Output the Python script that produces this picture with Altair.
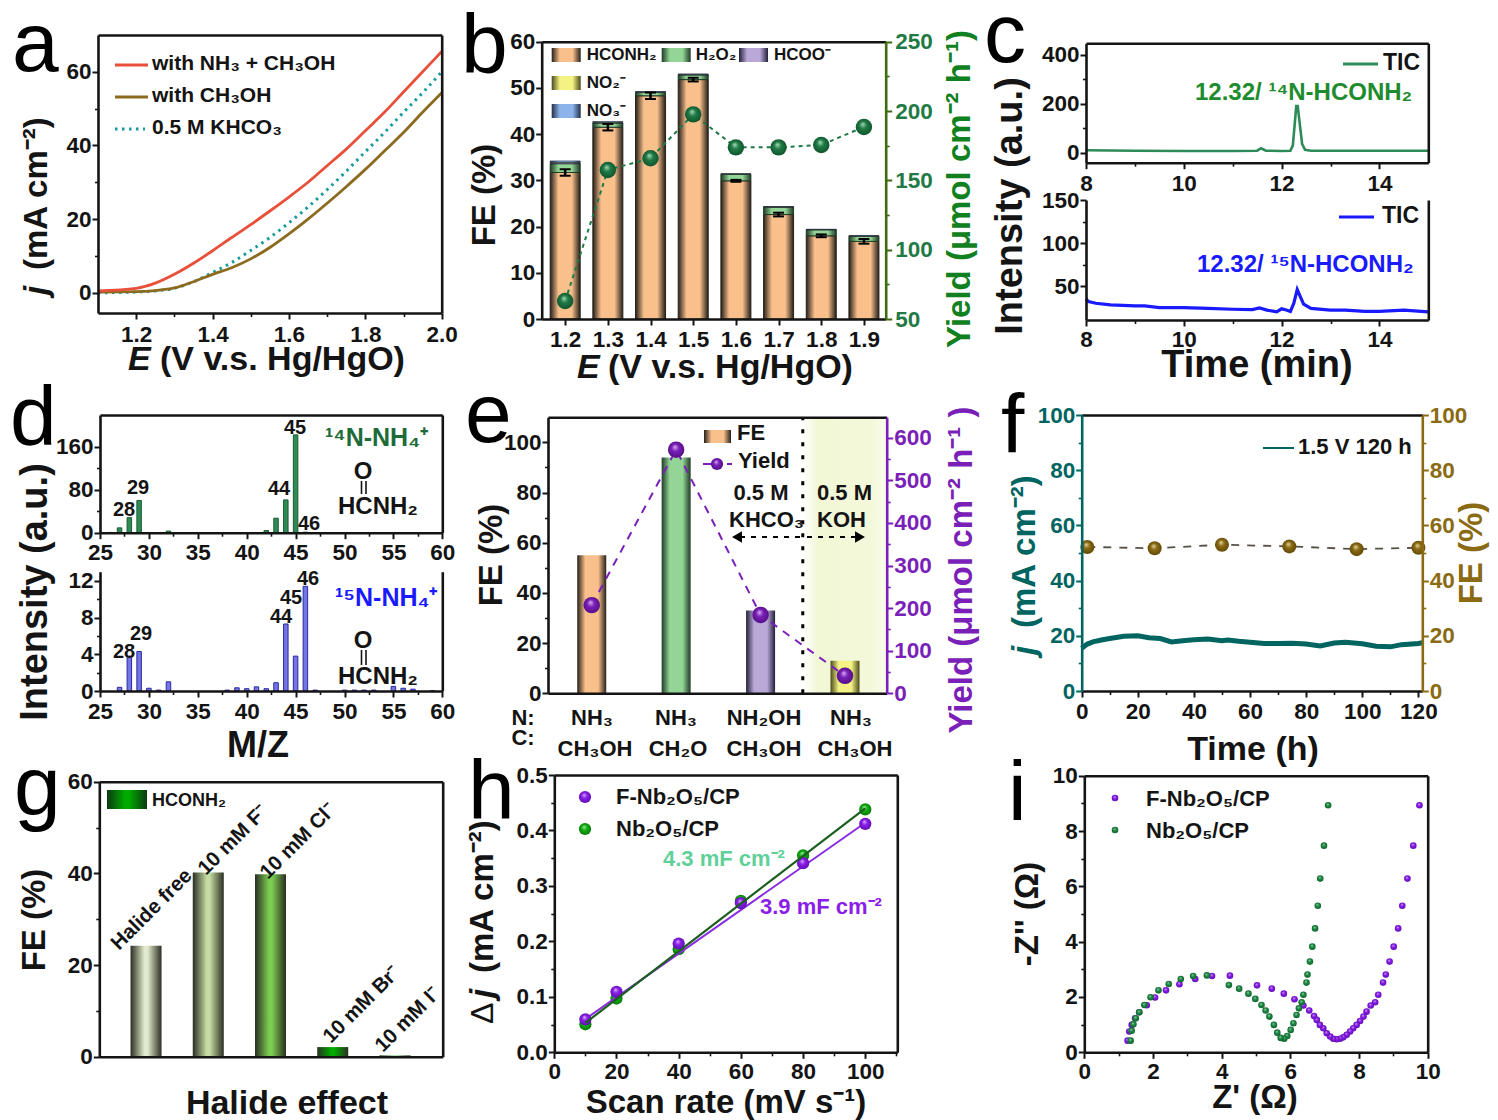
import altair as alt
import pandas as pd

W, H = 1482, 1112
FONT = "Liberation Sans"
INK = "#141414"

# ---------- data ----------
a_x = [1.1, 1.2, 1.25, 1.3, 1.35, 1.4, 1.45, 1.5, 1.55, 1.6, 1.65, 1.7, 1.75, 1.8, 1.85, 1.9, 1.95, 2.0]
a_red = [0.5, 1.2, 2.6, 5, 8, 11.4, 15, 18.5, 22.2, 26, 30, 34.5, 39, 44, 49, 54.5, 60, 65.5]
a_brown = [0.2, 0.3, 0.6, 1.3, 3, 5, 6.8, 9.2, 12.3, 16, 20, 24.3, 28.8, 33.5, 38.5, 43.5, 49, 54.3]
a_teal = [0, 0.2, 0.5, 1.2, 3, 5.5, 8.2, 11.5, 15, 19, 23.3, 28, 33, 38.3, 43.5, 49, 54.3, 60]

b_x = [1.2, 1.3, 1.4, 1.5, 1.6, 1.7, 1.8, 1.9]
b_hconh2 = [31.7, 41.5, 48.3, 51.8, 29.9, 22.6, 18.0, 16.8]
b_h2o2 = [1.9, 0.9, 0.7, 1.0, 1.4, 1.6, 1.3, 1.1]
b_hcoo = [0.2, 0.1, 0.1, 0.1, 0.05, 0.05, 0.05, 0.05]
b_no2 = [0.1, 0.1, 0.05, 0.05, 0.03, 0.03, 0.03, 0.03]
b_no3 = [0.3, 0.1, 0.05, 0.05, 0.02, 0.02, 0.02, 0.02]
b_err = [0.7, 0.7, 0.7, 0.4, 0.2, 0.4, 0.3, 0.5]
b_yield = [63, 157.5, 165.9, 197.6, 173.8, 173.8, 175.5, 188.5]

c1_x = [8, 9, 10, 11, 11.5, 11.55, 11.58, 11.62, 11.68, 12, 12.18, 12.23, 12.27, 12.3, 12.33, 12.37, 12.42, 12.48, 12.6, 13, 14, 15]
c1_y = [10, 8, 7, 7, 8, 14, 18, 14, 8, 7, 8, 30, 120, 190, 190, 120, 35, 12, 8, 8, 8, 8]
c2_x = [8, 8.05, 8.2, 8.5, 9, 9.2, 9.5, 10, 10.5, 11, 11.4, 11.55, 11.7, 11.9, 12, 12.08, 12.18, 12.25, 12.32, 12.38, 12.45, 12.6, 13, 13.3, 13.7, 14, 14.5, 15]
c2_y = [35, 32, 30, 28, 27, 27, 25, 25, 24, 23, 22.5, 24.5, 22, 20, 23.5, 22.5, 20.5, 30, 46, 38, 29, 24, 22, 22, 20.5, 20.5, 22, 20]

d1_x = [26, 27, 28, 29, 32, 42, 43, 44, 45, 46]
d1_y = [0.5, 9, 28, 60, 3, 4, 27, 61, 182, 1]
d2_x = [27, 28, 29, 30, 31, 32, 38, 39, 40, 41, 42, 43, 44, 45, 46, 47, 50, 51, 52, 53, 55, 56, 57, 59]
d2_y = [0.4, 3.8, 4.3, 0.3, 0.1, 1.0, 0.1, 0.35, 0.25, 0.45, 0.25, 0.9, 7.3, 3.8, 11.4, 0.1, 0.1, 0.1, 0.1, 0.1, 0.5, 0.3, 0.2, 0.05]

e_x = [1, 2, 3, 4]
e_fe = [55, 94, 33, 13]
e_yield = [207, 572, 184, 41]

f_x = [0, 2, 4, 7, 10, 15, 20, 24, 28, 32, 36, 40, 45, 50, 52, 56, 60, 65, 70, 75, 80, 85, 90, 94, 100, 105, 110, 114, 120, 121.4]
f_j = [15.5, 17, 17.8, 18.5, 19, 19.8, 20, 19.3, 19, 17.8, 18.2, 18.6, 18.8, 18.2, 18.5, 18, 17.7, 17.2, 17.2, 17.3, 17, 16.3, 17.4, 17.7, 17.1, 16.2, 16, 16.8, 17.2, 17.5]
f_tx = [2, 26, 50, 74, 98, 120]
f_fe = [52.2, 51.7, 53, 52.4, 51.4, 51.9]

g_x = [1, 2, 3, 4, 5]
g_fe = [24.2, 40.2, 39.8, 2.1, 0.3]
g_col = ["#e2ebcd", "#c6dca2", "#7ccc50", "#00ab00", "#8fd08f"]

h_x = [10, 20, 40, 60, 80, 100]
h_f = [0.0595, 0.109, 0.196, 0.269, 0.341, 0.412]
h_n = [0.0505, 0.097, 0.186, 0.273, 0.355, 0.438]
h_fit_x = [10, 100]
h_fit_f = [0.06, 0.414]
h_fit_n = [0.053, 0.44]

i_fx = [9.76, 9.58, 9.41, 9.26, 9.14, 9.01, 8.89, 8.78, 8.70, 8.56, 8.47, 8.34, 8.22, 8.13, 8.03, 7.93, 7.83, 7.74, 7.64, 7.54, 7.45, 7.35, 7.25, 7.16, 7.06, 6.96, 6.86, 6.77, 6.69, 6.55, 6.38, 6.12, 5.81, 5.46, 5.03, 4.24, 3.72, 3.23, 2.77, 2.38, 2.06, 1.82, 1.60, 1.48, 1.38, 1.31, 1.26]
i_fy = [8.93, 7.47, 6.28, 5.30, 4.48, 3.82, 3.28, 2.81, 2.52, 2.08, 1.81, 1.69, 1.47, 1.29, 1.13, 0.99, 0.87, 0.75, 0.63, 0.54, 0.49, 0.47, 0.49, 0.57, 0.69, 0.87, 0.99, 1.17, 1.31, 1.51, 1.69, 1.92, 2.12, 2.30, 2.42, 2.77, 2.76, 2.65, 2.46, 2.24, 1.98, 1.70, 1.45, 1.23, 0.99, 0.75, 0.42]
i_nx = [7.10, 6.98, 6.87, 6.80, 6.72, 6.64, 6.57, 6.50, 6.47, 6.38, 6.33, 6.25, 6.18, 6.09, 6.01, 5.91, 5.82, 5.72, 5.62, 5.52, 5.39, 5.28, 5.16, 4.98, 4.78, 4.51, 4.21, 3.57, 3.17, 2.81, 2.46, 2.16, 1.93, 1.75, 1.60, 1.50, 1.43, 1.38, 1.35]
i_ny = [8.93, 7.47, 6.28, 5.30, 4.48, 3.82, 3.28, 2.81, 2.52, 2.08, 1.81, 1.59, 1.35, 1.05, 0.81, 0.59, 0.49, 0.52, 0.71, 0.99, 1.29, 1.51, 1.71, 1.93, 2.12, 2.30, 2.43, 2.78, 2.76, 2.65, 2.47, 2.24, 1.99, 1.71, 1.45, 1.23, 1.01, 0.78, 0.42]

GREEN, PURPLE, TEAL, BROWN = "#1f7a45", "#7a1fb8", "#006461", "#8a6a12"
ONE = pd.DataFrame({"k": [0]})
LS = 22.5
layers = []


# ---------- helpers ----------
class Panel:
    def __init__(self, xd, yd, l, r, t, b):
        self.xd, self.yd, self.l, self.r, self.t, self.b = xd, yd, l, r, t, b
        self.sx = alt.Scale(domain=xd, range=[l - 8, r - 8], nice=False, zero=False, padding=0)
        self.sy = alt.Scale(domain=yd, range=[b - 8, t - 8], nice=False, zero=False, padding=0)


def axis(orient, dom, rng, at, major, minor=(), color=INK, line=None, fmt="d", size=LS, pad=2,
         labels=True, ticks=True):
    off = {"left": -(at - 8), "top": -(at - 8), "right": (at - 8) - W, "bottom": (at - 8) - H}[orient]
    horiz = orient in ("top", "bottom")
    scale = alt.Scale(domain=dom, range=rng, nice=False, zero=False)
    df = pd.DataFrame({"v": dom})
    kw = dict(orient=orient, offset=off, grid=False, values=list(major), format=fmt, zindex=1,
              domainColor=line or color, domainWidth=2.6, tickColor=line or color, tickWidth=2, tickSize=6,
              ticks=ticks, labels=labels, labelFont=FONT, labelFontWeight="bold", labelFontSize=size,
              labelColor=color, labelPadding=pad, labelOverlap=False, labelFlush=False, title=None)
    out = []
    if len(minor):
        mk = alt.Axis(orient=orient, offset=off, grid=False, values=list(minor), domain=False, labels=False,
                      tickColor=line or color, tickWidth=1.6, tickSize=3.5, title=None, zindex=1)
        ch = alt.X("v:Q", scale=scale, axis=mk) if horiz else alt.Y("v:Q", scale=scale, axis=mk)
        out.append(alt.Chart(df).mark_point(opacity=0).encode(**({"x": ch, "y": alt.value(0)} if horiz else {"y": ch, "x": alt.value(0)})))
    ax = alt.Axis(**kw)
    ch = alt.X("v:Q", scale=scale, axis=ax) if horiz else alt.Y("v:Q", scale=scale, axis=ax)
    out.append(alt.Chart(df).mark_point(opacity=0).encode(**({"x": ch, "y": alt.value(0)} if horiz else {"y": ch, "x": alt.value(0)})))
    layers.extend(out)


def hax(p, at, major, minor=(), **k):
    axis(k.pop("orient", "bottom"), p.xd, [p.l - 8, p.r - 8], at, major, minor, **k)


def vax(p, at, major, minor=(), **k):
    axis(k.pop("orient", "left"), p.yd, [p.b - 8, p.t - 8], at, major, minor, **k)


def edge(p, side, color=INK):
    if side in ("top", "bottom"):
        hax(p, p.t if side == "top" else p.b, [], orient=side, labels=False, ticks=False, color=color)
    else:
        vax(p, p.r if side == "right" else p.l, [], orient=side, labels=False, ticks=False, color=color)


def xy(p):
    return dict(x=alt.X("x:Q", scale=p.sx, axis=None), y=alt.Y("y:Q", scale=p.sy, axis=None))


def line(p, xs, ys, color, width=2.5, dash=None, interp="linear"):
    kw = dict(color=color, strokeWidth=width, interpolate=interp, clip=True)
    if dash:
        kw["strokeDash"] = dash
    layers.append(alt.Chart(pd.DataFrame({"x": xs, "y": ys})).mark_line(**kw).encode(**xy(p)))


def bars(p, xs, lo, hi, fill, width, stroke=None, sw=1):
    df = pd.DataFrame({"x": xs, "y": hi, "y0": lo})
    kw = dict(fill=fill, size=width)
    if stroke:
        kw.update(stroke=stroke, strokeWidth=sw)
    layers.append(alt.Chart(df).mark_bar(**kw).encode(y2=alt.Y2("y0:Q"), **xy(p)))


def gloss(c, lo, hi):
    return {"gradient": "radial", "x1": 0.42, "y1": 0.32, "r1": 0, "x2": 0.5, "y2": 0.5, "r2": 0.56,
            "stops": [{"offset": 0, "color": lo}, {"offset": 0.4, "color": c}, {"offset": 1, "color": hi}]}


def edge_grad(c, d="#26201a", w=0.28):
    return {"gradient": "linear", "x1": 0, "x2": 1, "y1": 0, "y2": 0,
            "stops": [{"offset": 0, "color": d}, {"offset": w, "color": c}, {"offset": 1 - w, "color": c}, {"offset": 1, "color": d}]}


def balls(p, xs, ys, fill, size):
    layers.append(alt.Chart(pd.DataFrame({"x": xs, "y": ys})).mark_circle(fill=fill, size=size, opacity=1).encode(**xy(p)))


def ball_at(x, y, fill, size):
    layers.append(alt.Chart(ONE).mark_circle(fill=fill, size=size, opacity=1).encode(x=alt.value(x - 8), y=alt.value(y - 8)))


def key_line(x1, x2, y, color, width=2.5, dash=None):
    kw = dict(color=color, strokeWidth=width)
    if dash:
        kw["strokeDash"] = dash
    layers.append(alt.Chart(ONE).mark_rule(**kw).encode(x=alt.value(x1 - 8), x2=alt.value(x2 - 8), y=alt.value(y - 8)))


def key_vline(x, y1, y2, color=INK, width=1.6):
    layers.append(alt.Chart(ONE).mark_rule(color=color, strokeWidth=width).encode(x=alt.value(x - 8), y=alt.value(y1 - 8), y2=alt.value(y2 - 8)))


def key_rect(x1, x2, y1, y2, fill):
    layers.append(alt.Chart(ONE).mark_rect(fill=fill).encode(x=alt.value(x1 - 8), x2=alt.value(x2 - 8), y=alt.value(y1 - 8), y2=alt.value(y2 - 8)))


def T(s, x, y, size=21, color=INK, angle=0, align="left", weight="bold", style=None, base="alphabetic"):
    kw = dict(font=FONT, fontSize=size, color=color, align=align, fontWeight=weight, baseline=base)
    if angle:
        kw["angle"] = angle
    if style:
        kw["fontStyle"] = style
    layers.append(alt.Chart(pd.DataFrame({"t": [s]})).mark_text(**kw).encode(text="t:N", x=alt.value(x - 8), y=alt.value(y - 8)))


ORANGE = edge_grad("#f9c08c")
LGREEN = edge_grad("#93d596", "#1e3a26")
LPURP = edge_grad("#baa9d8", "#22203a")
LYEL = edge_grad("#f3f283", "#4a4a1a")
LBLUE = edge_grad("#8db4ea", "#22304a")

# ---------- panel a ----------
pa = Panel([1.1, 2.0], [-5.5, 70], 98, 441.7, 35, 313)
line(pa, a_x, a_teal, "#169a9a", 3, [2.5, 4.5], "monotone")
line(pa, a_x, a_brown, "#8c6a1e", 2.8, None, "monotone")
line(pa, a_x, a_red, "#e8503a", 2.8, None, "monotone")
hax(pa, 313, [1.2, 1.4, 1.6, 1.8, 2.0], [1.3, 1.5, 1.7, 1.9], fmt=".1f", pad=4)
vax(pa, 98, [0, 20, 40, 60], [10, 30, 50], pad=1)
edge(pa, "top"); edge(pa, "right")
key_line(115, 148, 65, "#e8503a", 3)
key_line(115, 148, 97, "#8c6a1e", 3)
key_line(115, 145, 129, "#169a9a", 3, [2.5, 4.5])
T("with NH₃ + CH₃OH", 152, 70)
T("with CH₃OH", 152, 102)
T("0.5 M KHCO₃", 152, 134)
T("j", 47, 295, 33, angle=270, style="italic")
T("(mA cm⁻²)", 47, 270, 33, angle=270)
T("E", 128, 370, 34, style="italic")
T("(V v.s. Hg/HgO)", 160, 370, 34)

# ---------- panel b ----------
pb = Panel([1.145, 1.951], [0, 60], 541.7, 885.7, 41.7, 319)
pby = Panel([1.145, 1.951], [50, 250], 541.7, 885.7, 41.7, 319)
s1 = b_hconh2
s2 = [a + b for a, b in zip(s1, b_h2o2)]
s3 = [a + b for a, b in zip(s2, b_hcoo)]
s4 = [a + b for a, b in zip(s3, b_no2)]
s5 = [a + b for a, b in zip(s4, b_no3)]
bars(pb, b_x, [0] * 8, s1, ORANGE, 30, "#2a2018", 1)
bars(pb, b_x, s1, s2, LGREEN, 30, "#1e3a26", 1)
bars(pb, b_x, s2, s3, LPURP, 30, "#22203a", 0.6)
bars(pb, b_x, s3, s4, LYEL, 30, "#4a4a1a", 0.6)
bars(pb, b_x, s4, s5, LBLUE, 30, "#22304a", 0.6)
lo = [a - e for a, e in zip(s1, b_err)]
hi = [a + e for a, e in zip(s1, b_err)]
errdf = pd.DataFrame({"x": b_x, "y": lo, "y0": hi})
layers.append(alt.Chart(errdf).mark_rule(color="#000", strokeWidth=2.5).encode(y2=alt.Y2("y0:Q"), **xy(pb)))
layers.append(alt.Chart(errdf).mark_tick(color="#000", size=11, thickness=2, orient="horizontal", opacity=1).encode(**xy(pb)))
layers.append(alt.Chart(pd.DataFrame({"x": b_x, "y": hi})).mark_tick(color="#000", size=11, thickness=2, orient="horizontal", opacity=1).encode(**xy(pb)))
line(pby, b_x, b_yield, GREEN, 2, [4, 4])
balls(pby, b_x, b_yield, gloss("#1f7a45", "#a8dcbc", "#0e4f2a"), 270)
hax(pb, 319, b_x, fmt=".1f", pad=3)
vax(pb, 541.7, [0, 10, 20, 30, 40, 50, 60], pad=1)
vax(pby, 885.7, [50, 100, 150, 200, 250], [75, 125, 175, 225], orient="right", color=GREEN, line="#3f6b12", pad=3)
edge(pb, "top")
for fill, x, y in [(ORANGE, 551.7, 48), (LGREEN, 661.7, 48), (LPURP, 739, 48), (LYEL, 551.7, 76), (LBLUE, 551.7, 104)]:
    key_rect(x, x + 29, y, y + 14, fill)
T("HCONH₂", 586.7, 60, 17)
T("H₂O₂", 695.7, 60, 17)
T("HCOO⁻", 774, 60, 17)
T("NO₂⁻", 586.7, 88, 17)
T("NO₃⁻", 586.7, 116, 17)
T("E", 577, 378, 34, style="italic")
T("(V v.s. Hg/HgO)", 608, 378, 34)
T("FE (%)", 495, 195, 33, angle=270, align="center")
T("Yield (μmol cm⁻² h⁻¹)", 970, 189, 33, "#108020", angle=270, align="center")

# ---------- panel c ----------
pc1 = Panel([8, 15], [-41, 446], 1086, 1428.3, 43.3, 162.7)
pc2 = Panel([8, 15], [10.5, 150], 1086, 1428.3, 200, 320)
line(pc1, c1_x, c1_y, "#2e8b57", 2.6)
line(pc2, c2_x, c2_y, "#1a1aff", 3.2)
hax(pc1, 162.7, [8, 10, 12, 14], [9, 11, 13], pad=4)
vax(pc1, 1086, [0, 200, 400], [100, 300], pad=1)
edge(pc1, "top"); edge(pc1, "right")
hax(pc2, 320, [8, 10, 12, 14], [9, 11, 13], pad=2)
vax(pc2, 1086, [50, 100, 150], [75, 125], pad=1)
edge(pc2, "right")
key_line(1343, 1378, 64, "#2e8b57", 3)
T("TIC", 1383, 70, 23)
T("12.32/ ¹⁴N-HCONH₂", 1195, 100, 24, "#1e8c2e")
key_line(1339, 1374, 217, "#1a1aff", 3)
T("TIC", 1382, 223, 23)
T("12.32/ ¹⁵N-HCONH₂", 1197, 272, 24, "#1a1aff")
T("Intensity (a.u.)", 1022, 206, 38, angle=270, align="center")
T("Time (min)", 1257, 377, 38, align="center")

# ---------- panel d ----------
pd1 = Panel([25, 60], [0, 219], 100, 442.3, 415, 532.7)
pd2 = Panel([25, 60], [0, 13], 100, 442.3, 571.7, 691)
bars(pd1, d1_x, [0] * len(d1_x), d1_y, "#2e8b57", 4.5, "#1d5c30", 1)
bars(pd2, d2_x, [0] * len(d2_x), d2_y, "#7474e4", 4.5, "#2a2aa0", 1)
dt = [25, 30, 35, 40, 45, 50, 55, 60]
dm = [27.5, 32.5, 37.5, 42.5, 47.5, 52.5, 57.5]
hax(pd1, 532.7, dt, dm, pad=3)
vax(pd1, 100, [0, 80, 160], [40, 120], pad=1)
edge(pd1, "top"); edge(pd1, "right")
hax(pd2, 691, dt, dm, pad=3)
vax(pd2, 100, [0, 4, 8, 12], [2, 6, 10], pad=1)
edge(pd2, "right")
for s, x, y in [("28", 124, 510), ("29", 138, 488), ("44", 279, 489), ("45", 295, 428), ("46", 309, 524),
                ("28", 124, 652), ("29", 141, 634), ("44", 281, 617), ("45", 291, 598), ("46", 308, 579)]:
    T(s, x, y, 20, align="center", base="middle")
T("¹⁴N-NH₄⁺", 325, 446, 25, "#1e6b3a")
T("¹⁵N-NH₄⁺", 335, 606, 25, "#1a1aff")
for oy, ly1, ly2, by in [(472, 481, 494, 514), (641, 650, 665, 684)]:
    T("O", 363, oy, 24, align="center", base="middle")
    key_vline(361.5, ly1, ly2)
    key_vline(366, ly1, ly2)
    T("HCNH₂", 338, by, 24)
T("Intensity (a.u.)", 47, 592, 38, angle=270, align="center")
T("M/Z", 258, 757, 36, align="center")

# ---------- panel e ----------
pe = Panel([0.482, 4.494], [0, 110], 548, 886.7, 417.3, 693.3)
pey = Panel([0.482, 4.494], [0, 648], 548, 886.7, 417.3, 693.3)
bg = {"gradient": "linear", "x1": 0, "x2": 1, "y1": 0, "y2": 0,
      "stops": [{"offset": 0, "color": "#ffffff"}, {"offset": 0.18, "color": "#f2f7d6"},
                {"offset": 0.8, "color": "#f3f8da"}, {"offset": 1, "color": "#fafce9"}]}
layers.append(alt.Chart(pd.DataFrame({"x": [3.5], "x2": [4.494], "y": [0], "y0": [110]})).mark_rect(fill=bg).encode(
    x=alt.X("x:Q", scale=pe.sx, axis=None), x2=alt.X2("x2:Q"), y=alt.Y("y:Q", scale=pe.sy, axis=None), y2=alt.Y2("y0:Q")))
for xv, yv, f in zip(e_x, e_fe, [ORANGE, LGREEN, LPURP, LYEL]):
    bars(pe, [xv], [0], [yv], f, 29)
layers.append(alt.Chart(pd.DataFrame({"x": [3.5], "y": [0], "y0": [110]})).mark_rule(color="#000", strokeWidth=3, strokeDash=[4, 9]).encode(y2=alt.Y2("y0:Q"), **xy(pe)))
line(pey, e_x, e_yield, PURPLE, 2, [8, 7])
PBALL = gloss("#7a1fb8", "#d8b4f0", "#4f0d80")
balls(pey, e_x, e_yield, PBALL, 270)
hax(pe, 693.3, [], labels=False, ticks=False)
vax(pe, 548, [0, 20, 40, 60, 80, 100], [10, 30, 50, 70, 90], pad=1)
vax(pey, 886.7, [0, 100, 200, 300, 400, 500, 600], [50, 150, 250, 350, 450, 550], orient="right", color=PURPLE, pad=1)
edge(pe, "top")
key_rect(704, 731, 430, 443, ORANGE)
T("FE", 737, 440, 22)
key_line(703, 732, 464, PURPLE, 2, [8, 4])
ball_at(717, 464, PBALL, 150)
T("Yield", 738, 468, 22)
T("0.5 M", 761, 500, 22, align="center")
T("KHCO₃", 729, 527, 22)
T("0.5 M", 817, 500, 22)
T("KOH", 817, 527, 22)
key_line(740, 800, 537, "#000", 2, [5, 6])
key_line(807, 858, 537, "#000", 2, [5, 6])
layers.append(alt.Chart(ONE).mark_point(shape="triangle-left", filled=True, color="#000", size=130, opacity=1).encode(x=alt.value(737 - 8), y=alt.value(537 - 8)))
layers.append(alt.Chart(ONE).mark_point(shape="triangle-right", filled=True, color="#000", size=130, opacity=1).encode(x=alt.value(860 - 8), y=alt.value(537 - 8)))
T("N:", 523, 725, 22, align="center")
T("C:", 523, 745, 22, align="center")
for s, x in [("NH₃", 592), ("NH₃", 676), ("NH₂OH", 764), ("NH₃", 851)]:
    T(s, x, 725, 22, align="center")
for s, x in [("CH₃OH", 595), ("CH₂O", 678), ("CH₃OH", 764), ("CH₃OH", 855)]:
    T(s, x, 756, 22, align="center")
T("FE (%)", 502, 555, 33, angle=270, align="center")
T("Yield (μmol cm⁻² h⁻¹ )", 972, 570, 33, PURPLE, angle=270, align="center")

# ---------- panel f ----------
pf = Panel([0, 121.4], [0, 100], 1081.7, 1422.3, 415, 691)
line(pf, f_x, f_j, TEAL, 5)
line(pf, f_tx, f_fe, "#55504a", 1.8, [8, 8])
balls(pf, f_tx, f_fe, gloss(BROWN, "#e8d8a8", "#5c4508"), 196)
hax(pf, 691, [0, 20, 40, 60, 80, 100, 120], [10, 30, 50, 70, 90, 110], pad=3)
vax(pf, 1081.7, [0, 20, 40, 60, 80, 100], [10, 30, 50, 70, 90], color=TEAL, pad=1)
vax(pf, 1422.3, [0, 20, 40, 60, 80, 100], [10, 30, 50, 70, 90], orient="right", color=BROWN, pad=1)
edge(pf, "top", "#111")
key_line(1263, 1294, 448, TEAL, 2)
T("1.5 V 120 h", 1298, 454, 22)
T("j", 1035, 655, 33, TEAL, angle=270, style="italic")
T("(mA cm⁻²)", 1035, 628, 33, TEAL, angle=270)
T("FE (%)", 1482, 553, 33, BROWN, angle=270, align="center")
T("Time (h)", 1253, 760, 34, align="center")

# ---------- panel g ----------
pg = Panel([0.249, 5.767], [0, 60], 99.3, 442.7, 781.7, 1056.7)
for xv, yv, c in zip(g_x, g_fe, g_col):
    bars(pg, [xv], [0], [yv], edge_grad(c, "#2a2e22", 0.45), 31)
hax(pg, 1056.7, [], labels=False, ticks=False)
vax(pg, 99.3, [0, 20, 40, 60], [10, 30, 50], pad=1)
edge(pg, "top"); edge(pg, "right")
key_rect(107, 147, 790, 809, edge_grad("#00ab00", "#0c3a10", 0.45))
T("HCONH₂", 152, 806, 18)
for s, x, y in [("Halide free", 119, 951), ("10 mM F⁻", 206, 876), ("10 mM Cl⁻", 268, 880), ("10 mM Br⁻", 331, 1044), ("10 mM I⁻", 383, 1053)]:
    T(s, x, y, 20.5, angle=315)
T("FE (%)", 45, 920, 33, angle=270, align="center")
T("Halide effect", 287, 1114, 34, align="center")

# ---------- panel h ----------
ph = Panel([0, 110.3], [0, 0.5], 554.3, 897.3, 775, 1052.3)
PB2 = gloss("#8b1de8", "#d9b8f8", "#5a0db0")
GB2 = gloss("#10b010", "#a8eca8", "#067006")
balls(ph, h_x, h_n, GB2, 150)
line(ph, h_fit_x, h_fit_f, "#8a2be2", 2)
balls(ph, h_x, h_f, PB2, 150)
line(ph, h_fit_x, h_fit_n, "#1b5e20", 2.2)
hax(ph, 1052.3, [0, 20, 40, 60, 80, 100], [10, 30, 50, 70, 90, 110], pad=2)
vax(ph, 554.3, [0, 0.1, 0.2, 0.3, 0.4, 0.5], [0.05, 0.15, 0.25, 0.35, 0.45], fmt=".1f", pad=1)
edge(ph, "top"); edge(ph, "right")
ball_at(585, 797, PB2, 150)
ball_at(585, 829, GB2, 150)
T("F-Nb₂O₅/CP", 616, 804, 22)
T("Nb₂O₅/CP", 616, 836, 22)
T("4.3 mF cm⁻²", 663, 866, 22, "#5fd09a")
T("3.9 mF cm⁻²", 760, 914, 22, "#8b1de8")
T("Δ", 493, 1024, 32, angle=270, weight="normal")
T("j", 493, 998, 33, angle=270, style="italic")
T("(mA cm⁻²)", 493, 973, 33, angle=270)
T("Scan rate (mV s⁻¹)", 726, 1113, 33, align="center")

# ---------- panel i ----------
pi = Panel([0, 10], [0, 10], 1084.3, 1427.7, 775.7, 1052.3)
balls(pi, i_fx, i_fy, gloss("#8b1de8", "#d9b8f8", "#5a0db0"), 44)
balls(pi, i_nx, i_ny, gloss("#1f8a45", "#a8dcbc", "#0e5f2a"), 44)
ival = [0, 2, 4, 6, 8, 10]
imin = [1, 3, 5, 7, 9]
hax(pi, 1052.3, ival, imin, pad=2)
vax(pi, 1084.3, ival, imin, pad=1)
edge(pi, "top"); edge(pi, "right")
ball_at(1115, 798, gloss("#8b1de8", "#d9b8f8", "#5a0db0"), 44)
ball_at(1115, 830, gloss("#1f8a45", "#a8dcbc", "#0e5f2a"), 44)
T("F-Nb₂O₅/CP", 1146, 806, 22)
T("Nb₂O₅/CP", 1146, 838, 22)
T("-Z'' (Ω)", 1038, 914, 33, angle=270, align="center")
T("Z' (Ω)", 1255, 1108, 33, align="center")

# ---------- panel letters ----------
for s, x, y in [("a", 12, 71), ("b", 461, 73), ("c", 984, 62), ("d", 10, 445), ("e", 465, 442),
                ("f", 1001, 453), ("g", 14, 815), ("h", 468, 819), ("i", 1008, 820)]:
    T(s, x, y, 84, "#000", weight="normal")

chart = alt.layer(*layers).resolve_scale(x="independent", y="independent").properties(
    width=W, height=H, padding=0, autosize=alt.AutoSizeParams(type="none"), background="white"
).configure_view(strokeWidth=0)

chart.save("out.html", embed_options={"renderer": "svg", "actions": False})
